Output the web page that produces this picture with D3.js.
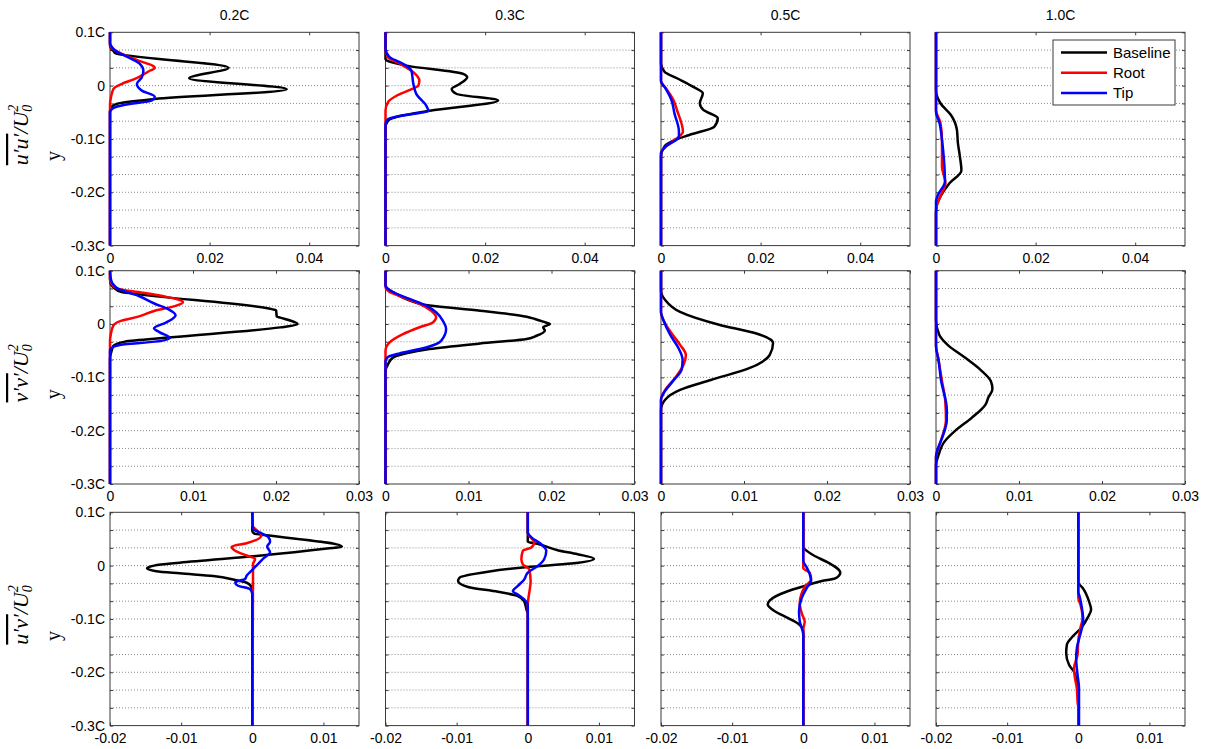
<!DOCTYPE html>
<html>
<head>
<meta charset="utf-8">
<script src="https://cdn.jsdelivr.net/npm/d3@7"></script>
<style>
  html, body { margin: 0; padding: 0; background: #fff; }
  svg { display: block; font-family: "Liberation Sans", Arial, sans-serif; }
</style>
</head>
<body>
<svg id="chart" width="1209" height="749"></svg>
<script>
// ---- Labels and ticks ----
const columnTitles = ["0.2C", "0.3C", "0.5C", "1.0C"];
const seriesNames = ["Baseline", "Root", "Tip"];
const yGrid = [0.1, 2/30, 1/30, 0, -1/30, -2/30, -0.1, -4/30, -5/30, -0.2, -7/30, -8/30, -0.3];
const yTickLabels = ["0.1C", "", "", "0", "", "", "-0.1C", "", "", "-0.2C", "", "", "-0.3C"];
const uuTicks = [0, 0.02, 0.04];
const uuTickLabels = ["0", "0.02", "0.04"];
const vvTicks = [0, 0.01, 0.02, 0.03];
const vvTickLabels = ["0", "0.01", "0.02", "0.03"];
const uvTicks = [-0.02, -0.01, 0, 0.01];
const uvTickLabels = ["-0.02", "-0.01", "0", "0.01"];

// ---- Profiles: [y/C, value] pairs, top to bottom ----
// u'u'/U0^2
const uu02Baseline = [[0.1,0],[0.075,0],[0.07,0.0002],[0.065,0.0007],[0.061,0.0010],[0.0336,0.0238],[0.0138,0.0159],[-0.007,0.0355],[-0.025,0.0090],[-0.0333,0.0017],[-0.040,0.0003],[-0.047,0],[-0.3,0]];
const uu02Root = [[0.1,0],[0.078,0],[0.072,0.0002],[0.06,0.0023],[0.047,0.0057],[0.036,0.0088],[0.033,0.0090],[0.027,0.0078],[0.0126,0.0050],[0.003,0.0023],[-0.006,0.0007],[-0.022,0.0002],[-0.035,0],[-0.3,0]];
const uu02Tip = [[0.1,0],[0.08,0],[0.075,0.0002],[0.066,0.0010],[0.053,0.0037],[0.041,0.0060],[0.028,0.0067],[0.0157,0.0064],[0.003,0.0054],[-0.0094,0.0064],[-0.021,0.0090],[-0.028,0.0084],[-0.036,0.0030],[-0.042,0.0007],[-0.05,0],[-0.3,0]];
const uu03Baseline = [[0.1,0],[0.05,0],[0.045,0.0008],[0.037,0.0045],[0.022,0.0156],[0.0157,0.0164],[0.003,0.0149],[-0.0063,0.0133],[-0.0157,0.0143],[-0.028,0.0226],[-0.047,0.0089],[-0.057,0.0029],[-0.066,0.0005],[-0.079,0],[-0.3,0]];
const uu03Root = [[0.1,0],[0.065,0],[0.06,0.0002],[0.053,0.0005],[0.041,0.0029],[0.025,0.0056],[0.0094,0.0068],[0,0.0066],[-0.008,0.0049],[-0.019,0.0022],[-0.031,0.0005],[-0.047,0],[-0.3,0]];
const uu03Tip = [[0.1,0],[0.068,0],[0.062,0.0002],[0.053,0.0009],[0.041,0.0035],[0.028,0.0052],[0.003,0.0056],[-0.016,0.0062],[-0.038,0.0082],[-0.047,0.0086],[-0.057,0.0029],[-0.063,0.0005],[-0.072,0],[-0.3,0]];
const uu05Baseline = [[0.1,0],[0.042,0],[0.026,0.0007],[0.0138,0.0032],[-0.002,0.0064],[-0.0143,0.0084],[-0.033,0.0078],[-0.0456,0.0085],[-0.061,0.0114],[-0.077,0.0107],[-0.0925,0.0057],[-0.102,0.0028],[-0.114,0.0007],[-0.133,0],[-0.3,0]];
const uu05Root = [[0.1,0],[0.0074,0],[-0.005,0.0010],[-0.027,0.0025],[-0.0457,0.0032],[-0.0863,0.0044],[-0.0987,0.0032],[-0.1144,0.0010],[-0.127,0],[-0.3,0]];
const uu05Tip = [[0.1,0],[0.009,0],[-0.005,0.0009],[-0.027,0.0021],[-0.052,0.0027],[-0.086,0.0036],[-0.0957,0.0036],[-0.1144,0.0009],[-0.127,0],[-0.3,0]];
const uu10Baseline = [[0.1,0],[-0.008,0],[-0.033,0.0009],[-0.055,0.0030],[-0.083,0.0042],[-0.108,0.0044],[-0.133,0.0048],[-0.159,0.0051],[-0.183,0.0027],[-0.208,0.0009],[-0.227,0.0001],[-0.24,0],[-0.3,0]];
const uu10Root = [[0.1,0],[-0.0456,0],[-0.07,0.0009],[-0.102,0.0012],[-0.152,0.0012],[-0.183,0.0019],[-0.205,0.0010],[-0.224,0.0002],[-0.239,0],[-0.3,0]];
const uu10Tip = [[0.1,0],[-0.05,0],[-0.07,0.0007],[-0.102,0.0012],[-0.139,0.0016],[-0.18,0.0018],[-0.205,0.0004],[-0.217,0],[-0.3,0]];

// v'v'/U0^2
const vv02Baseline = [[0.1,0],[0.085,0],[0.075,0.0001],[0.069,0.0004],[0.06,0.0014],[0.057,0.0028],[0.028,0.0195],[0.026,0.0200],[0.0138,0.0201],[0.012,0.0205],[-0.0005,0.0226],[-0.0063,0.0205],[-0.025,0.0074],[-0.033,0.0018],[-0.041,0.0004],[-0.05,0.0002],[-0.065,0],[-0.3,0]];
const vv02Root = [[0.1,0],[0.085,0],[0.075,0.0002],[0.066,0.0010],[0.06,0.0034],[0.0516,0.0066],[0.047,0.0080],[0.041,0.0088],[0.0346,0.0080],[0.025,0.0054],[0.0138,0.0034],[0.0063,0.0014],[-0.003,0.0004],[-0.019,0.0001],[-0.031,0],[-0.3,0]];
const vv02Tip = [[0.1,0],[0.085,0.0001],[0.076,0.0003],[0.066,0.0010],[0.053,0.0034],[0.038,0.0054],[0.028,0.0070],[0.0165,0.0079],[0.003,0.0068],[-0.008,0.0053],[-0.0157,0.0060],[-0.026,0.0072],[-0.033,0.0054],[-0.038,0.0018],[-0.043,0.0004],[-0.05,0],[-0.3,0]];
const vv03Baseline = [[0.1,0],[0.075,0],[0.069,0.0001],[0.06,0.0009],[0.047,0.0025],[0.0346,0.0053],[0.025,0.0114],[0.0138,0.0170],[0.0094,0.0180],[0.0044,0.0190],[0,0.0198],[-0.006,0.0190],[-0.0126,0.0192],[-0.022,0.0182],[-0.028,0.0170],[-0.0365,0.0114],[-0.047,0.0053],[-0.055,0.0025],[-0.063,0.0009],[-0.0755,0.0003],[-0.088,0],[-0.3,0]];
const vv03Root = [[0.1,0],[0.07,0],[0.06,0.0005],[0.05,0.0021],[0.038,0.0041],[0.025,0.0055],[0.0126,0.0061],[0.003,0.0057],[-0.006,0.0041],[-0.019,0.0021],[-0.0346,0.0005],[-0.05,0],[-0.3,0]];
const vv03Tip = [[0.1,0],[0.072,0],[0.06,0.0009],[0.047,0.0029],[0.0346,0.0049],[0.022,0.0061],[0.0063,0.0069],[-0.0094,0.0073],[-0.0315,0.0067],[-0.044,0.0049],[-0.055,0.0017],[-0.062,0.0003],[-0.069,0],[-0.3,0]];
const vv05Baseline = [[0.1,0],[0.064,0],[0.045,0.0005],[0.0226,0.0023],[-0.0018,0.0071],[-0.0168,0.0113],[-0.0355,0.0135],[-0.058,0.0131],[-0.0824,0.0107],[-0.105,0.0060],[-0.1236,0.0023],[-0.142,0.0005],[-0.161,0],[-0.3,0]];
const vv05Root = [[0.1,0],[0.0226,0],[0.0038,0.0004],[-0.02,0.0014],[-0.039,0.0023],[-0.058,0.0030],[-0.077,0.0027],[-0.101,0.0017],[-0.124,0.0005],[-0.142,0],[-0.3,0]];
const vv05Tip = [[0.1,0],[0.022,0],[0.007,0.0003],[-0.02,0.0011],[-0.045,0.0021],[-0.067,0.0026],[-0.085,0.0025],[-0.106,0.0015],[-0.13,0.0003],[-0.142,0],[-0.3,0]];
const vv10Baseline = [[0.1,0],[0.007,0],[-0.0206,0.0004],[-0.039,0.0014],[-0.062,0.0034],[-0.0864,0.0054],[-0.107,0.0066],[-0.122,0.0068],[-0.138,0.0063],[-0.15,0.0060],[-0.176,0.0043],[-0.199,0.0024],[-0.221,0.0010],[-0.246,0.0003],[-0.265,0],[-0.3,0]];
const vv10Root = [[0.1,0],[-0.039,0],[-0.067,0.0003],[-0.105,0.0007],[-0.142,0.0011],[-0.18,0.0012],[-0.218,0.0006],[-0.236,0.0002],[-0.25,0],[-0.3,0]];
const vv10Tip = [[0.1,0],[-0.042,0],[-0.067,0.0003],[-0.105,0.0006],[-0.16,0.0013],[-0.18,0.0013],[-0.215,0.0007],[-0.235,0.0002],[-0.248,0],[-0.3,0]];

// u'v'/U0^2
const uv02Baseline = [[0.1,0],[0.065,0],[0.06,0.0003],[0.057,0.0020],[0.0355,0.0126],[0.032,0.0105],[0.018,0.0006],[0.0055,-0.0102],[0,-0.0138],[-0.005,-0.0148],[-0.0105,-0.0135],[-0.0145,-0.0102],[-0.0194,-0.0055],[-0.0269,-0.0024],[-0.032,-0.0008],[-0.041,-0.0001],[-0.055,0],[-0.3,0]];
const uv02Root = [[0.1,0],[0.076,0],[0.0606,0.0011],[0.057,0.0013],[0.042,-0.0008],[0.0355,-0.0029],[0.028,-0.0024],[0.019,-0.0008],[0.0126,0.0004],[0.003,0.0001],[-0.028,0.0001],[-0.3,0]];
const uv02Tip = [[0.1,0],[0.069,0.0001],[0.0618,0.0011],[0.0543,0.0022],[0.045,0.0025],[0.0355,0.0021],[0.0252,0.0025],[0.0126,0.0015],[0.003,0.0008],[-0.0094,-0.0001],[-0.019,-0.0008],[-0.025,-0.0010],[-0.0315,-0.0024],[-0.0377,-0.0020],[-0.044,-0.0003],[-0.053,0],[-0.3,0]];
const uv03Baseline = [[0.1,0],[0.045,0],[0.04,0.0016],[0.029,0.0042],[0.0214,0.0070],[0.013,0.0093],[0.0038,0.0061],[-0.0025,0],[-0.0113,-0.0056],[-0.0226,-0.0096],[-0.029,-0.0098],[-0.040,-0.0084],[-0.049,-0.0042],[-0.057,-0.0014],[-0.067,-0.0005],[-0.082,-0.0002],[-0.09,0],[-0.3,0]];
const uv03Root = [[0.1,0],[0.062,0],[0.056,0.0002],[0.0434,0.0009],[0.034,0.0005],[0.0277,-0.0007],[0.012,-0.0009],[0.0025,-0.0007],[-0.007,0.0002],[-0.029,0.0004],[-0.06,0.0001],[-0.073,0],[-0.3,0]];
const uv03Tip = [[0.1,0],[0.062,0],[0.053,0.0005],[0.04,0.0019],[0.0277,0.0026],[0.012,0.0023],[-0.0006,0.0014],[-0.0132,0],[-0.0258,-0.0005],[-0.038,-0.0014],[-0.048,-0.0021],[-0.054,-0.0014],[-0.0635,-0.0005],[-0.073,0],[-0.3,0]];
const uv05Baseline = [[0.1,0],[0.034,0],[0.0277,0.0005],[0.018,0.0016],[0.0057,0.0035],[-0.0132,0.0052],[-0.024,0.0045],[-0.029,0.0026],[-0.034,0.0012],[-0.038,0.0002],[-0.048,-0.0022],[-0.065,-0.0047],[-0.073,-0.0050],[-0.0855,-0.0040],[-0.098,-0.0022],[-0.109,-0.0007],[-0.123,0],[-0.3,0]];
const uv05Root = [[0.1,0],[-0.005,0],[-0.013,0.0009],[-0.026,0.0011],[-0.04,0.0002],[-0.055,-0.0003],[-0.07,-0.0005],[-0.09,-0.0002],[-0.105,0.0002],[-0.12,0],[-0.3,0]];
const uv05Tip = [[0.1,0],[0.009,0],[-0.0038,0.0005],[-0.016,0.0009],[-0.029,0.0011],[-0.0415,0.0005],[-0.06,-0.0002],[-0.0855,-0.0006],[-0.104,-0.0005],[-0.13,0],[-0.3,0]];
const uv10Baseline = [[0.1,0],[-0.032,0],[-0.0415,0.0006],[-0.0667,0.0015],[-0.0824,0.0018],[-0.098,0.0013],[-0.117,0.0004],[-0.133,-0.0008],[-0.148,-0.0016],[-0.164,-0.0017],[-0.186,-0.0013],[-0.199,-0.0006],[-0.218,-0.0002],[-0.23,0],[-0.3,0]];
const uv10Root = [[0.1,0],[-0.06,0],[-0.073,0.0003],[-0.098,0.0006],[-0.117,0.0003],[-0.142,0],[-0.167,-0.0001],[-0.1925,-0.0006],[-0.208,-0.0005],[-0.23,-0.0002],[-0.255,-0.0001],[-0.268,0],[-0.3,0]];
const uv10Tip = [[0.1,0],[-0.05,0],[-0.054,0.0001],[-0.079,0.0005],[-0.104,0.0007],[-0.123,0.0004],[-0.155,-0.0002],[-0.174,-0.0003],[-0.205,-0.0001],[-0.23,0.0001],[-0.3,0.0001]];

// ---- Figure assembly ----
const rows = [
  { sym: "u\u2032u\u2032", domain: [0, 0.05], ticks: uuTicks, tickLabels: uuTickLabels,
    profiles: [[uu02Baseline, uu02Root, uu02Tip], [uu03Baseline, uu03Root, uu03Tip], [uu05Baseline, uu05Root, uu05Tip], [uu10Baseline, uu10Root, uu10Tip]] },
  { sym: "v\u2032v\u2032", domain: [0, 0.03], ticks: vvTicks, tickLabels: vvTickLabels,
    profiles: [[vv02Baseline, vv02Root, vv02Tip], [vv03Baseline, vv03Root, vv03Tip], [vv05Baseline, vv05Root, vv05Tip], [vv10Baseline, vv10Root, vv10Tip]] },
  { sym: "u\u2032v\u2032", domain: [-0.02, 0.015], ticks: uvTicks, tickLabels: uvTickLabels,
    profiles: [[uv02Baseline, uv02Root, uv02Tip], [uv03Baseline, uv03Root, uv03Tip], [uv05Baseline, uv05Root, uv05Tip], [uv10Baseline, uv10Root, uv10Tip]] }
];

const seriesColors = ["#000000", "#ff0000", "#0000ff"];
const colLeft = [110, 385.5, 661, 936];
const rowTop = [32.3, 270.7, 512.3];
const W = 249, H = 213.3;
const axisColor = "#3a3a3a";

const svg = d3.select("#chart");
const yScale = d3.scaleLinear().domain([-0.3, 0.1]).range([H, 0]);

// column titles
columnTitles.forEach((t, c) => {
  svg.append("text")
    .attr("x", colLeft[c] + W / 2).attr("y", 20)
    .attr("text-anchor", "middle")
    .style("font-size", "14px")
    .text(t);
});

function styleAxis(sel) {
  sel.select(".domain").remove();
  sel.selectAll("line").attr("stroke", axisColor);
  sel.selectAll("text").style("font-size", "14px").style("font-family", '"Liberation Sans", Arial, sans-serif').attr("fill", "#000");
}

rows.forEach((row, r) => {
  const x = d3.scaleLinear().domain(row.domain).range([0, W]);
  const line = d3.line()
    .x(d => x(d[1]))
    .y(d => yScale(d[0]))
    .curve(d3.curveMonotoneY);

  // row label: quantity over y
  const cy = rowTop[r] + H / 2;
  const lab = svg.append("text")
    .attr("transform", `translate(28,${cy - 4}) rotate(-90)`)
    .attr("text-anchor", "middle")
    .style("font-family", '"Liberation Serif", "Times New Roman", serif')
    .style("font-style", "italic")
    .style("font-size", "22px");
  lab.append("tspan").style("text-decoration", "overline").text(row.sym);
  lab.append("tspan").text("/U");
  lab.append("tspan").attr("dy", 4).style("font-size", "14px").text("0");
  lab.append("tspan").attr("dx", -7).attr("dy", -14).style("font-size", "14px").text("2");

  svg.append("text")
    .attr("transform", `translate(60,${cy + 17}) rotate(-90)`)
    .attr("text-anchor", "middle")
    .style("font-family", '"Liberation Serif", "Times New Roman", serif')
    .style("font-size", "20px")
    .text("y");

  row.profiles.forEach((series, c) => {
    const g = svg.append("g").attr("transform", `translate(${colLeft[c]},${rowTop[r]})`);

    g.append("rect").attr("width", W).attr("height", H).attr("fill", "#fff");

    // dotted horizontal grid
    g.selectAll("line.grid")
      .data(yGrid.slice(1, -1))
      .join("line")
      .attr("class", "grid")
      .attr("x1", 0).attr("x2", W)
      .attr("y1", d => yScale(d)).attr("y2", d => yScale(d))
      .attr("stroke", "#8a8a8a")
      .attr("stroke-width", 1)
      .attr("stroke-dasharray", "1,2");

    // axes box
    g.append("rect").attr("width", W).attr("height", H)
      .attr("fill", "none").attr("stroke", axisColor).attr("stroke-width", 1);

    const bottom = g.append("g").attr("transform", `translate(0,${H})`)
      .call(d3.axisBottom(x).tickValues(row.ticks)
        .tickFormat((d, i) => row.tickLabels[i])
        .tickSizeInner(-3).tickSizeOuter(0).tickPadding(7));
    styleAxis(bottom);

    const top = g.append("g")
      .call(d3.axisTop(x).tickValues(row.ticks).tickFormat("")
        .tickSizeInner(-3).tickSizeOuter(0));
    styleAxis(top);

    const left = g.append("g")
      .call(d3.axisLeft(yScale).tickValues(yGrid)
        .tickFormat((d, i) => c === 0 ? yTickLabels[i] : "")
        .tickSizeInner(-3).tickSizeOuter(0).tickPadding(5));
    styleAxis(left);

    const right = g.append("g").attr("transform", `translate(${W},0)`)
      .call(d3.axisRight(yScale).tickValues(yGrid).tickFormat("")
        .tickSizeInner(-3).tickSizeOuter(0));
    styleAxis(right);

    // profiles
    series.forEach((data, s) => {
      g.append("path")
        .datum(data)
        .attr("d", line)
        .attr("fill", "none")
        .attr("stroke", seriesColors[s])
        .attr("stroke-width", 2.5)
        .attr("stroke-linejoin", "round");
    });
  });
});

// legend
const lg = svg.append("g").attr("transform", "translate(1053,40)");
lg.append("rect").attr("width", 122).attr("height", 65)
  .attr("fill", "#fff").attr("stroke", axisColor).attr("stroke-width", 1);
seriesNames.forEach((name, i) => {
  const yy = 12.5 + i * 20.3;
  lg.append("line").attr("x1", 8).attr("x2", 54).attr("y1", yy).attr("y2", yy)
    .attr("stroke", seriesColors[i]).attr("stroke-width", 2.5);
  lg.append("text").attr("x", 60).attr("y", yy).attr("dy", "0.35em")
    .style("font-size", "15px").text(name);
});
</script>
</body>
</html>
